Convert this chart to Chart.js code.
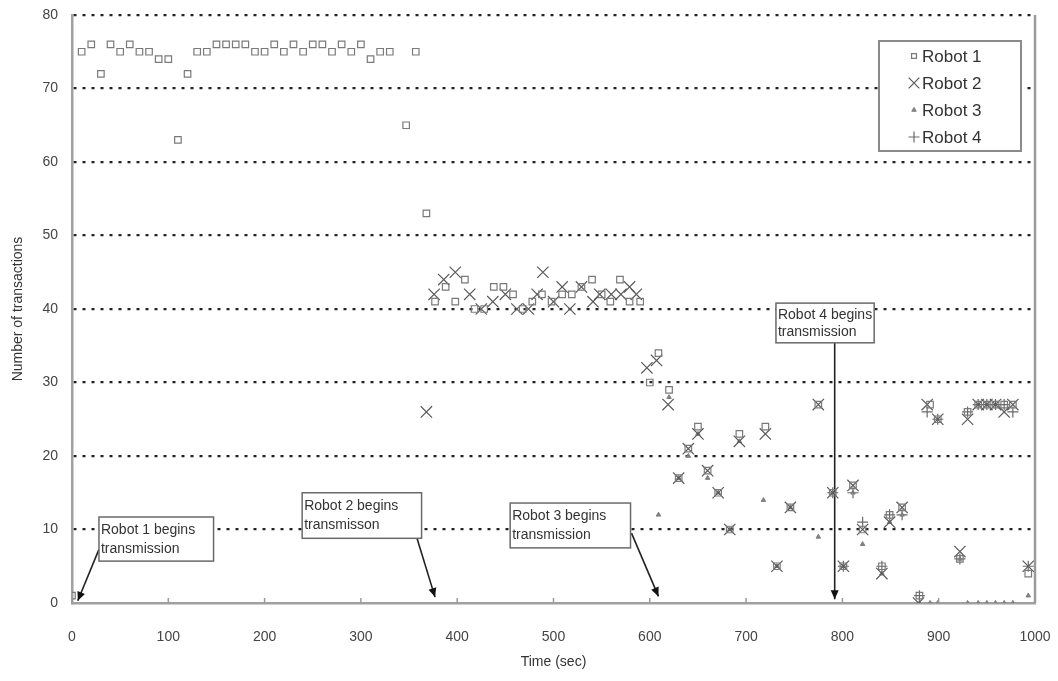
<!DOCTYPE html>
<html>
<head>
<meta charset="utf-8">
<script src="https://cdn.jsdelivr.net/npm/chart.js@4/dist/chart.umd.min.js"></script>
<style>
  html, body { margin: 0; padding: 0; background: #fff; }
  #chart { display: block; }
</style>
</head>
<body>
<canvas id="chart" width="1058" height="681"></canvas>
<script>
// ---------------- data ----------------
var robotNames = ['Robot 1', 'Robot 2', 'Robot 3', 'Robot 4'];

var r1Time = [0, 10, 20, 30, 40, 50, 60, 70, 80, 90, 100, 110, 120, 130, 140, 150, 160, 170, 180, 190,
  200, 210, 220, 230, 240, 250, 260, 270, 280, 290, 300, 310, 320, 330, 347, 357, 368,
  377, 388, 398, 408, 418, 428, 438, 448, 458, 468, 478, 488, 498, 509, 519, 529, 540, 550, 559, 569, 579, 590,
  600, 609, 620, 630, 640, 650, 660, 671, 683, 693, 720, 732, 746, 775, 790, 801, 811, 821, 841, 849, 862,
  880, 891, 899, 922, 930, 941, 950, 959, 968, 977, 993];
var r1Count = [1, 75, 76, 72, 76, 75, 76, 75, 75, 74, 74, 63, 72, 75, 75, 76, 76, 76, 76, 75,
  75, 76, 75, 76, 75, 76, 76, 75, 76, 75, 76, 74, 75, 75, 65, 75, 53,
  41, 43, 41, 44, 40, 40, 43, 43, 42, 40, 41, 42, 41, 42, 42, 43, 44, 42, 41, 44, 41, 41,
  30, 34, 29, 17, 21, 24, 18, 15, 10, 23, 24, 5, 13, 27, 15, 5, 16, 10, 5, 12, 13,
  1, 27, 25, 6, 26, 27, 27, 27, 27, 27, 4];

var r2Time = [368, 376, 386, 398, 413, 425, 437, 450, 462, 474, 483, 489, 500, 509, 517, 529, 541, 548, 560, 570, 579, 586,
  597, 607, 619, 630, 640, 650, 660, 671, 683, 693, 720, 732, 746, 775, 790, 801, 811, 821, 841, 849, 862,
  879, 888, 899, 922, 930, 941, 950, 959, 968, 977, 993];
var r2Count = [26, 42, 44, 45, 42, 40, 41, 42, 40, 40, 42, 45, 41, 43, 40, 43, 41, 42, 42, 42, 43, 42,
  32, 33, 27, 17, 21, 23, 18, 15, 10, 22, 23, 5, 13, 27, 15, 5, 16, 10, 4, 11, 13,
  0, 27, 25, 7, 25, 27, 27, 27, 26, 27, 5];

var r3Time = [609, 620, 630, 640, 650, 660, 671, 683, 693, 718, 732, 746, 775, 790, 801, 811, 821, 841, 849, 862,
  880, 891, 899, 922, 930, 941, 950, 959, 968, 977, 993];
var r3Count = [12, 28, 17, 20, 23, 17, 15, 10, 22, 14, 5, 13, 9, 15, 5, 15, 8, 4, 11, 12,
  0, 0, 0, 6, 0, 0, 0, 0, 0, 0, 1];

var r4Time = [790, 801, 811, 821, 841, 849, 862, 880, 888, 899, 922, 930, 941, 950, 959, 968, 977, 993];
var r4Count = [15, 5, 15, 11, 5, 12, 12, 1, 26, 25, 6, 26, 27, 27, 27, 27, 26, 5];

var xTicks = [0, 100, 200, 300, 400, 500, 600, 700, 800, 900, 1000];
var yTicks = [0, 10, 20, 30, 40, 50, 60, 70, 80];

// annotations, in data units
var noteText = [
  ['Robot 1 begins', 'transmission'],
  ['Robot 2 begins', 'transmisson'],
  ['Robot 3 begins', 'transmission'],
  ['Robot 4 begins', 'transmission']
];
var noteBox = [[28, 11.7, 147, 5.7], [239, 15, 363, 8.8], [455, 13.6, 580, 7.5], [731, 40.8, 833, 35.4]];
var noteFrom = [[28, 7.3], [358, 8.9], [581, 9.5], [792, 35.4]];
var noteTo = [[6, 0.3], [377, 0.8], [609, 0.9], [792, 0.5]];

// ---------------- chart ----------------
function pairs(t, v) {
  var out = [];
  for (var i = 0; i < t.length; i++) out.push({x: t[i], y: v[i]});
  return out;
}

var FONT = "'Liberation Sans', Arial, sans-serif";

var markerStyles = [
  {pointStyle: 'rect', radius: 4.6, borderColor: '#7a7a7a', backgroundColor: 'rgba(0,0,0,0)', borderWidth: 1.2},
  {pointStyle: 'crossRot', radius: 8, borderColor: '#5a5a5a', backgroundColor: '#5a5a5a', borderWidth: 1.2},
  {pointStyle: 'triangle', radius: 2.6, borderColor: '#808080', backgroundColor: '#808080', borderWidth: 1},
  {pointStyle: 'cross', radius: 5.5, borderColor: '#6a6a6a', backgroundColor: '#6a6a6a', borderWidth: 1.2}
];

var series = [pairs(r1Time, r1Count), pairs(r2Time, r2Count), pairs(r3Time, r3Count), pairs(r4Time, r4Count)];

var datasets = series.map(function (pts, i) {
  var m = markerStyles[i];
  return {
    label: robotNames[i],
    data: pts,
    showLine: false,
    pointStyle: m.pointStyle,
    pointRadius: m.radius,
    pointBorderColor: m.borderColor,
    pointBackgroundColor: m.backgroundColor,
    pointBorderWidth: m.borderWidth
  };
});

// boxes + arrows
var notesPlugin = {
  id: 'notes',
  beforeDatasetsDraw: function (chart) {
    var ctx = chart.ctx, xs = chart.scales.x, ys = chart.scales.y;
    ctx.save();
    for (var i = 0; i < noteText.length; i++) {
      var b = noteBox[i];
      var x0 = xs.getPixelForValue(b[0]), y0 = ys.getPixelForValue(b[1]);
      var x1 = xs.getPixelForValue(b[2]), y1 = ys.getPixelForValue(b[3]);
      // arrow
      var ax = xs.getPixelForValue(noteFrom[i][0]), ay = ys.getPixelForValue(noteFrom[i][1]);
      var tx = xs.getPixelForValue(noteTo[i][0]), ty = ys.getPixelForValue(noteTo[i][1]);
      ctx.strokeStyle = '#222';
      ctx.lineWidth = 1.6;
      ctx.beginPath(); ctx.moveTo(ax, ay); ctx.lineTo(tx, ty); ctx.stroke();
      var ang = Math.atan2(ty - ay, tx - ax);
      ctx.fillStyle = '#111';
      ctx.beginPath();
      ctx.moveTo(tx, ty);
      ctx.lineTo(tx - 9 * Math.cos(ang) + 4 * Math.sin(ang), ty - 9 * Math.sin(ang) - 4 * Math.cos(ang));
      ctx.lineTo(tx - 9 * Math.cos(ang) - 4 * Math.sin(ang), ty - 9 * Math.sin(ang) + 4 * Math.cos(ang));
      ctx.closePath(); ctx.fill();
      // box
      ctx.fillStyle = '#fff';
      ctx.fillRect(x0, y0, x1 - x0, y1 - y0);
      ctx.strokeStyle = '#6a6a6a';
      ctx.lineWidth = 1.5;
      ctx.strokeRect(x0, y0, x1 - x0, y1 - y0);
      ctx.fillStyle = '#333';
      ctx.font = '14px ' + FONT;
      ctx.textBaseline = 'middle';
      ctx.textAlign = 'left';
      var h = y1 - y0;
      ctx.fillText(noteText[i][0], x0 + 2, y0 + h * 0.3);
      ctx.fillText(noteText[i][1], x0 + 2, y0 + h * 0.72);
    }
    ctx.restore();
  },
  afterDraw: function (chart) {
    var ctx = chart.ctx, a = chart.chartArea, xs = chart.scales.x;
    ctx.save();
    // right frame
    ctx.strokeStyle = '#9a9a9a';
    ctx.lineWidth = 2.5;
    ctx.beginPath(); ctx.moveTo(a.right, a.top); ctx.lineTo(a.right, a.bottom); ctx.stroke();
    // inward tick marks on the time axis
    ctx.lineWidth = 1.5;
    xs.ticks.forEach(function (t) {
      var px = xs.getPixelForValue(t.value);
      ctx.beginPath(); ctx.moveTo(px, a.bottom); ctx.lineTo(px, a.bottom - 5); ctx.stroke();
    });
    // legend box
    var lx = 879, ly = 41, lw = 142, lh = 110;
    ctx.fillStyle = '#fff';
    ctx.fillRect(lx, ly, lw, lh);
    ctx.strokeStyle = '#8a8a8a';
    ctx.lineWidth = 2;
    ctx.strokeRect(lx, ly, lw, lh);
    ctx.font = '17px ' + FONT;
    ctx.textBaseline = 'middle';
    ctx.textAlign = 'left';
    for (var i = 0; i < robotNames.length; i++) {
      var m = markerStyles[i];
      var cy = ly + 15 + i * 27;
      ctx.strokeStyle = m.borderColor;
      ctx.fillStyle = m.backgroundColor;
      ctx.lineWidth = m.borderWidth;
      Chart.helpers.drawPoint(ctx, {pointStyle: m.pointStyle, radius: i === 0 ? 3.5 : (i === 1 ? 7.5 : m.radius), borderWidth: m.borderWidth}, lx + 35, cy);
      ctx.fillStyle = '#333';
      ctx.fillText(robotNames[i], lx + 43, cy + 1);
    }
    ctx.restore();
  }
};

new Chart(document.getElementById('chart'), {
  type: 'scatter',
  data: {datasets: datasets},
  plugins: [notesPlugin],
  options: {
    responsive: false,
    animation: false,
    devicePixelRatio: 1,
    layout: {padding: {top: 15, right: 23, left: 0, bottom: 0}},
    plugins: {legend: {display: false}, tooltip: {enabled: false}},
    scales: {
      x: {
        type: 'linear',
        min: 0, max: 1000,
        afterFit: function (s) { s.height = 78; s.paddingLeft = 0; s.paddingRight = 0; },
        afterBuildTicks: function (s) { s.ticks = xTicks.map(function (v) { return {value: v}; }); },
        grid: {display: false},
        border: {display: true, color: '#a0a0a0', width: 2.5},
        ticks: {color: '#444', font: {family: FONT, size: 14}, padding: 18, maxRotation: 0,
          callback: function (v) { return String(v); }},
        title: {display: true, text: 'Time (sec)', color: '#333', font: {family: FONT, size: 14}, padding: {top: 4, bottom: 10}}
      },
      y: {
        type: 'linear',
        min: 0, max: 80,
        afterFit: function (s) { s.width = 72; s.paddingTop = 0; s.paddingBottom = 0; },
        afterBuildTicks: function (s) { s.ticks = yTicks.map(function (v) { return {value: v}; }); },
        grid: {
          drawTicks: false,
          color: function (c) { return c.tick && c.tick.value === 0 ? 'rgba(0,0,0,0)' : '#222'; },
          lineWidth: 2.2,
          tickBorderDash: [3, 6]
        },
        border: {display: true, color: '#a0a0a0', width: 2.5, dash: [3, 6]},
        ticks: {color: '#444', font: {family: FONT, size: 14}, padding: 14,
          callback: function (v) { return String(v); }},
        title: {display: true, text: 'Number of transactions', color: '#333', font: {family: FONT, size: 14}, padding: {top: 10, bottom: 4}}
      }
    }
  }
});
</script>
</body>
</html>
